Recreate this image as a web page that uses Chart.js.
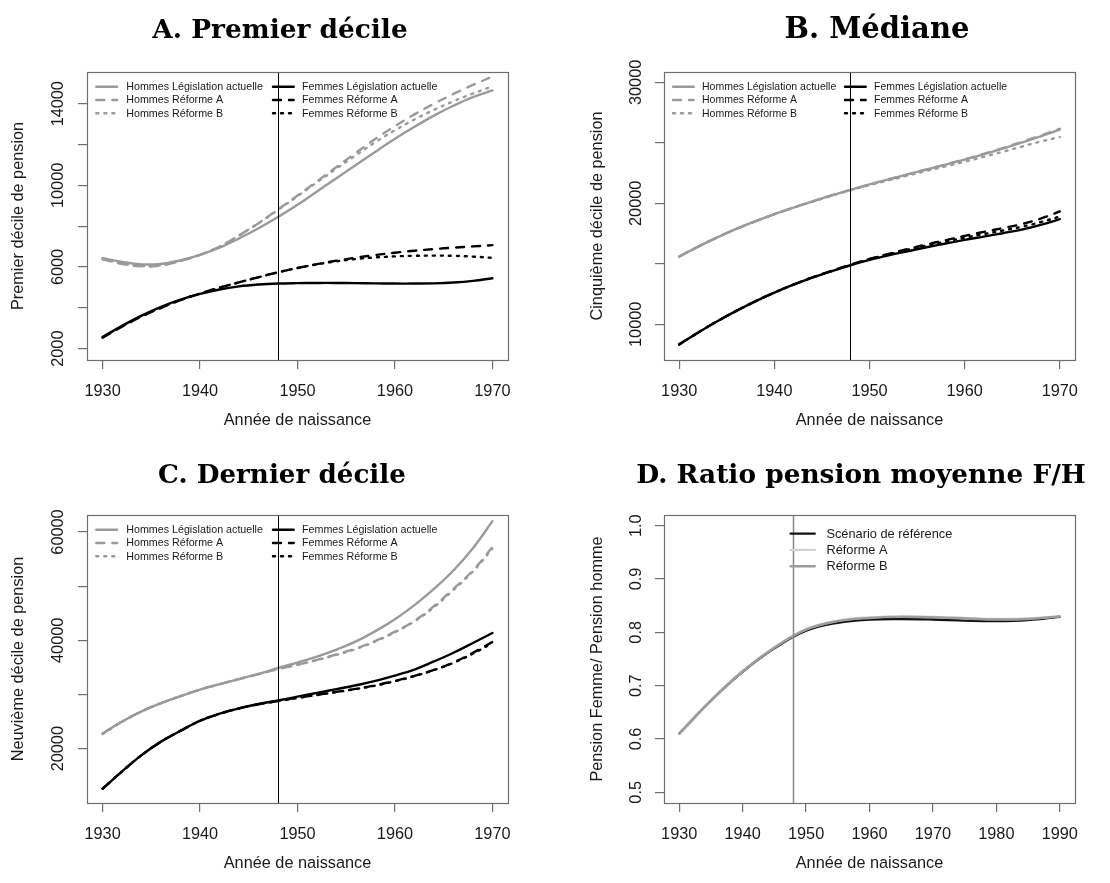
<!DOCTYPE html>
<html><head><meta charset="utf-8">
<script src="https://cdn.jsdelivr.net/npm/chart.js@4.4.1/dist/chart.umd.min.js"></script>
<style>
html,body{margin:0;padding:0;background:#fff;}
#wrap{position:relative;width:1110px;height:883px;overflow:hidden;}
.p{position:absolute;}
canvas{display:block;}
</style></head><body>
<div id="wrap">
<div class="p" style="left:0;top:0"><canvas id="cA" width="555" height="442"></canvas></div>
<div class="p" style="left:555px;top:0"><canvas id="cB" width="555" height="442"></canvas></div>
<div class="p" style="left:0;top:442px"><canvas id="cC" width="555" height="441"></canvas></div>
<div class="p" style="left:555px;top:442px"><canvas id="cD" width="555" height="441"></canvas></div>
</div>
<script>
// ---------- DATA ----------
const years = [1930,1932,1934,1936,1938,1940,1942,1944,1946,1948,1950,1952,1954,1956,1958,1960,1962,1964,1966,1968,1970];
const yearsD = [1930,1935,1940,1945,1950,1955,1960,1965,1970,1975,1980,1985,1990];
const refYear = 1948;

const seriesLabels = ['Hommes Législation actuelle','Hommes Réforme A','Hommes Réforme B','Femmes Législation actuelle','Femmes Réforme A','Femmes Réforme B'];
const seriesLabelsD = ['Scénario de référence','Réforme A','Réforme B'];

const A_hommesLeg = [6430,6250,6130,6150,6330,6600,6950,7400,7900,8450,9050,9700,10350,11000,11650,12280,12870,13420,13900,14320,14650];
const A_hommesA   = [6380,6150,6030,6080,6300,6600,7000,7550,8150,8820,9500,10200,10900,11600,12280,12900,13480,14000,14480,14920,15330];
const A_hommesB   = [6400,6170,6050,6090,6300,6600,7000,7550,8150,8800,9470,10150,10820,11480,12120,12700,13230,13700,14120,14500,14850];
const A_femmesLeg = [2570,3120,3620,4050,4400,4680,4900,5050,5140,5190,5210,5220,5220,5210,5200,5190,5190,5200,5240,5320,5450];
const A_femmesA   = [2540,3080,3570,4000,4380,4700,4990,5250,5500,5740,5950,6140,6310,6460,6590,6700,6800,6880,6950,7010,7070];
const A_femmesB   = [2560,3100,3590,4010,4380,4700,4990,5250,5500,5740,5950,6130,6280,6390,6470,6520,6550,6560,6550,6510,6450];

const B_hommesLeg = [15600,16420,17180,17880,18510,19100,19650,20160,20650,21120,21560,21980,22390,22800,23200,23610,24050,24520,25020,25540,26090];
const B_hommesA   = [15600,16420,17180,17880,18510,19100,19650,20160,20650,21120,21560,21980,22390,22810,23220,23640,24090,24570,25080,25610,26170];
const B_hommesB   = [15600,16420,17180,17880,18510,19100,19640,20140,20620,21080,21500,21900,22290,22680,23060,23440,23840,24260,24690,25110,25480];
const B_femmesLeg = [8340,9320,10250,11110,11900,12620,13270,13850,14380,14880,15320,15700,16040,16370,16680,16980,17250,17530,17830,18220,18690];
const B_femmesA   = [8340,9320,10250,11110,11900,12620,13280,13880,14420,14930,15400,15820,16220,16600,16960,17310,17640,17950,18280,18740,19330];
const B_femmesB   = [8340,9320,10250,11110,11900,12620,13270,13870,14400,14900,15380,15780,16160,16510,16840,17160,17460,17750,18060,18450,18910];

const C_hommesLeg = [22800,25000,26900,28400,29700,30900,31900,32850,33800,34900,35900,37000,38300,39800,41700,43900,46500,49500,52900,57000,62000];
const C_hommesA   = [22800,25000,26900,28400,29700,30900,31900,32850,33750,34700,35500,36400,37400,38500,39900,41600,43600,46300,49500,52900,57200];
const C_hommesB   = [22700,24950,26850,28400,29700,30900,31900,32850,33750,34700,35500,36350,37300,38400,39800,41500,43500,46100,49300,52700,56900];
const C_femmesLeg = [12600,15800,18800,21300,23300,25150,26450,27450,28250,28900,29600,30300,31000,31700,32500,33500,34600,36100,37700,39500,41350];
const C_femmesA   = [12600,15800,18800,21300,23300,25150,26450,27450,28200,28800,29400,29950,30500,31050,31700,32500,33450,34550,35900,37700,39700];
const C_femmesB   = [12600,15800,18800,21300,23300,25150,26450,27450,28200,28800,29350,29900,30450,31000,31650,32450,33400,34500,35850,37550,39500];

const D_ref = [0.610,0.672,0.726,0.770,0.803,0.818,0.824,0.825,0.824,0.822,0.821,0.823,0.829];
const D_A   = [0.610,0.672,0.727,0.772,0.806,0.822,0.828,0.830,0.829,0.827,0.825,0.826,0.830];
const D_B   = [0.610,0.672,0.727,0.771,0.805,0.821,0.827,0.829,0.828,0.826,0.824,0.825,0.830];

const xTicks  = [1930,1940,1950,1960,1970];
const xTicksD = [1930,1940,1950,1960,1970,1980,1990];
const A_yTicks = [2000,4000,6000,8000,10000,12000,14000];
const A_yLabels = [2000,6000,10000,14000];
const B_yTicks = [10000,15000,20000,25000,30000];
const B_yLabels = [10000,20000,30000];
const C_yTicks = [20000,30000,40000,50000,60000];
const C_yLabels = [20000,40000,60000];
const D_yTicks = [0.5,0.6,0.7,0.8,0.9,1.0];
const D_yLabels = [0.5,0.6,0.7,0.8,0.9,1.0];

const titles = ['A. Premier décile','B. Médiane','C. Dernier décile','D. Ratio pension moyenne F/H'];
const yTitles = ['Premier décile de pension','Cinquième décile de pension','Neuvième décile de pension','Pension Femme/ Pension homme'];
const xTitle = 'Année de naissance';

// ---------- STYLE ----------
const SANS = '"Liberation Sans", Arial, Helvetica, sans-serif';
const TXT = '#1a1a1a';
const AX = '#6e6e6e';
const GREY = '#9a9a9a';
const FS = 16.3;
const LW = 2.4;
const styles6 = [
  {c:GREY, d:[]}, {c:GREY, d:[8,8]}, {c:GREY, d:[2,6]},
  {c:'#000', d:[]}, {c:'#000', d:[8,8]}, {c:'#000', d:[2,6]}
];
const stylesD = [{c:'#111', d:[], o:3}, {c:'#d2d2d2', d:[], o:2}, {c:'#9c9c9c', d:[], o:1}];

function pts(xs, ys){ return xs.map((x,i)=>({x:x, y:ys[i]})); }

const decor = {
  id:'decor',
  afterDatasetsDraw(chart, args, o){
    const {ctx, chartArea:ca, scales:{x}} = chart;
    ctx.save();
    const px = Math.round(x.getPixelForValue(o.refYear)) + 0.5;
    ctx.strokeStyle = o.refColor; ctx.lineWidth = o.refWidth;
    ctx.beginPath(); ctx.moveTo(px, ca.top); ctx.lineTo(px, ca.bottom); ctx.stroke();
    ctx.strokeStyle = AX; ctx.lineWidth = 1.2;
    ctx.strokeRect(Math.round(ca.left)+0.5, Math.round(ca.top)+0.5, Math.round(ca.right-ca.left), Math.round(ca.bottom-ca.top));
    ctx.restore();
  },
  afterDraw(chart, args, o){
    const {ctx, chartArea:ca, scales:{y}} = chart;
    ctx.save();
    ctx.fillStyle = TXT; ctx.font = FS + 'px ' + SANS;
    ctx.textAlign = 'center'; ctx.textBaseline = 'middle';
    o.yLabels.forEach(v=>{
      const py = y.getPixelForValue(v);
      ctx.save(); ctx.translate(ca.left - o.yLabOff, py); ctx.rotate(-Math.PI/2);
      ctx.fillText(o.yFmt ? o.yFmt(v) : String(v), 0, 0); ctx.restore();
    });
    ctx.font = 'bold ' + o.titleSize + 'px "DejaVu Serif", serif';
    ctx.textBaseline = 'alphabetic'; ctx.fillStyle = '#000';
    ctx.fillText(o.title, o.titleX, o.titleY);
    const L = o.legend;
    ctx.font = L.fs + 'px ' + SANS; ctx.textAlign = 'left'; ctx.textBaseline = 'middle'; ctx.fillStyle = TXT;
    chart.data.datasets.forEach((ds, i)=>{
      const col = Math.floor(i / L.rows), row = i % L.rows;
      const x0 = ca.left + L.cx[col], yy = ca.top + L.y0 + row * L.rh;
      ctx.save();
      ctx.strokeStyle = ds.borderColor; ctx.lineWidth = ds.borderWidth; ctx.lineCap = 'round';
      ctx.setLineDash(ds.borderDash || []);
      ctx.beginPath(); ctx.moveTo(x0, yy); ctx.lineTo(x0 + L.len, yy); ctx.stroke();
      ctx.restore();
      ctx.fillText(ds.label, ca.left + L.tx[col], yy + 0.5);
    });
    ctx.restore();
  }
};

function makeChart(id, cfg){
  const datasets = cfg.series.map((s,i)=>({
    label: cfg.labels[i], data: pts(cfg.xs, s),
    borderColor: cfg.styles[i].c, borderDash: cfg.styles[i].d, borderWidth: LW,
    borderCapStyle:'round', borderJoinStyle:'round', pointRadius:0, tension:0.4, fill:false,
    order: cfg.styles[i].o !== undefined ? cfg.styles[i].o : (10 - i)
  }));
  return new Chart(document.getElementById(id), {
    type:'line',
    data:{datasets},
    plugins:[decor],
    options:{
      responsive:false, animation:false, devicePixelRatio:1,
      layout:{padding:{left:0, top:cfg.top, right:cfg.right, bottom:0}},
      plugins:{legend:{display:false}, tooltip:{enabled:false},
        decor:{refYear:refYear, refColor:cfg.refColor, refWidth:cfg.refWidth, yLabels:cfg.yLabels, yFmt:cfg.yFmt,
               yLabOff:cfg.yLabOff, title:cfg.title, titleX:cfg.titleX, titleY:cfg.titleY, titleSize:cfg.titleSize, legend:cfg.legend}},
      scales:{
        x:{type:'linear', min:cfg.xmin, max:cfg.xmax,
           afterBuildTicks:s=>{ s.ticks = cfg.xTicks.map(v=>({value:v})); },
           afterFit:s=>{ s.height = cfg.xh; },
           ticks:{color:TXT, font:{family:SANS, size:FS}, padding:12.7, maxRotation:0, minRotation:0, autoSkip:false, callback:v=>String(v)},
           grid:{display:true, drawOnChartArea:false, drawTicks:true, tickLength:9, color:AX, tickColor:AX, lineWidth:1.2},
           border:{display:false},
           title:{display:true, text:xTitle, color:TXT, font:{family:SANS, size:FS}, padding:{top:0, bottom:cfg.xtPad}}
        },
        y:{type:'linear', min:cfg.ymin, max:cfg.ymax,
           afterBuildTicks:s=>{ s.ticks = cfg.yTicks.map(v=>({value:v})); },
           afterFit:s=>{ s.width = cfg.yw; },
           ticks:{display:false},
           grid:{display:true, drawOnChartArea:false, drawTicks:true, tickLength:9, color:AX, tickColor:AX, lineWidth:1.2},
           border:{display:false},
           title:{display:true, text:cfg.yTitle, color:TXT, font:{family:SANS, size:FS}, padding:{top:cfg.ytPad, bottom:0}}
        }
      }
    }
  });
}

const legend6A = {rows:3, cx:[9.3,186], tx:[39.3,215], len:20.7, y0:14.7, rh:13.3, fs:10.7};
const legend6B = {rows:3, cx:[9,181], tx:[38,210], len:20.7, y0:14.7, rh:13.3, fs:10.5};
const legendD  = {rows:3, cx:[126.7], tx:[162.4], len:24, y0:18.6, rh:16.3, fs:12.8};

makeChart('cA', {xs:years, series:[A_hommesLeg,A_hommesA,A_hommesB,A_femmesLeg,A_femmesA,A_femmesB], labels:seriesLabels, styles:styles6,
  top:72, right:47, yw:87, xh:82, xtPad:12.2, ytPad:9.2, xmin:1928.4, xmax:1971.6, ymin:1444, ymax:15555,
  xTicks:xTicks, yTicks:A_yTicks, yLabels:A_yLabels, yLabOff:28, yTitle:yTitles[0], title:titles[0], titleX:280, titleY:37.5, titleSize:26.4,
  refColor:'#000', refWidth:1, legend:legend6A});
makeChart('cB', {xs:years, series:[B_hommesLeg,B_hommesA,B_hommesB,B_femmesLeg,B_femmesA,B_femmesB], labels:seriesLabels, styles:styles6,
  top:72, right:35, yw:109, xh:82, xtPad:12.2, ytPad:33.2, xmin:1928.4, xmax:1971.6, ymin:7048, ymax:30858,
  xTicks:xTicks, yTicks:B_yTicks, yLabels:B_yLabels, yLabOff:27.3, yTitle:yTitles[1], title:titles[1], titleX:322, titleY:37.5, titleSize:29,
  refColor:'#000', refWidth:1, legend:legend6B});
makeChart('cC', {xs:years, series:[C_hommesLeg,C_hommesA,C_hommesB,C_femmesLeg,C_femmesA,C_femmesB], labels:seriesLabels, styles:styles6,
  top:73, right:47, yw:87, xh:80, xtPad:10.2, ytPad:9.2, xmin:1928.4, xmax:1971.6, ymin:9969, ymax:63138,
  xTicks:xTicks, yTicks:C_yTicks, yLabels:C_yLabels, yLabOff:28, yTitle:yTitles[2], title:titles[2], titleX:282, titleY:40.5, titleSize:26.2,
  refColor:'#000', refWidth:1, legend:legend6A});
makeChart('cD', {xs:yearsD, series:[D_ref,D_A,D_B], labels:seriesLabelsD, styles:stylesD,
  top:73, right:35, yw:109, xh:80, xtPad:10.2, ytPad:33.2, xmin:1927.6, xmax:1992.4, ymin:0.48, ymax:1.02,
  xTicks:xTicksD, yTicks:D_yTicks, yLabels:D_yLabels, yFmt:v=>v.toFixed(1), yLabOff:27.3, yTitle:yTitles[3], title:titles[3], titleX:306, titleY:40.5, titleSize:26.4,
  refColor:'#888', refWidth:1.5, legend:legendD});
</script>
</body></html>
